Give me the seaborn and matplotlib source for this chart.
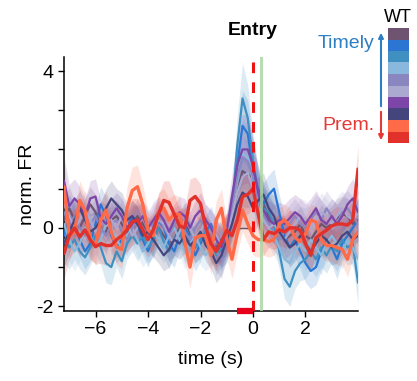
import numpy as np
import pandas as pd
import matplotlib
matplotlib.use("Agg")
import matplotlib.pyplot as plt
from matplotlib.colors import ListedColormap
import seaborn as sns

# time grid (s), 0.2 s bins
time = [-7.2, -7.0, -6.8, -6.6, -6.4, -6.2, -6.0, -5.8, -5.6, -5.4,
        -5.2, -5.0, -4.8, -4.6, -4.4, -4.2, -4.0, -3.8, -3.6, -3.4,
        -3.2, -3.0, -2.8, -2.6, -2.4, -2.2, -2.0, -1.8, -1.6, -1.4,
        -1.2, -1.0, -0.8, -0.6, -0.4, -0.2, 0.0, 0.2, 0.4, 0.6,
        0.8, 1.0, 1.2, 1.4, 1.6, 1.8, 2.0, 2.2, 2.4, 2.6,
        2.8, 3.0, 3.2, 3.4, 3.6, 3.8, 4.0]

groups = ["t1", "t2", "t3", "t4", "t5", "t6", "t7", "p1", "p2", "p3"]
colors = ["#6e5470", "#2a76d2", "#3f8fc0", "#8ab8dc", "#8a86c0",
          "#aca9d0", "#7d45a8", "#45457e", "#ff6a48", "#e2302a"]

fr_t1 = [0.2, 0.5, 0.2, 0.0, 0.3, 0.6, 0.4, 0.0, -0.1, 0.2,
         0.3, 0.1, -0.1, 0.1, 0.3, 0.1, -0.2, -0.3, 0.0, -0.2,
         -0.4, -0.3, 0.0, 0.2, -0.2, -0.5, -0.3, -0.2, -0.4, -0.5,
         -0.3, -0.2, 0.3, 0.9, 1.45, 1.35, 1.3, 1.0, 0.6, 0.3,
         0.1, -0.1, -0.3, -0.2, -0.1, 0.1, -0.2, -0.3, -0.1, 0.1,
         0.0, 0.1, 0.25, 0.35, 0.3, 0.1, 0.2]
fr_t2 = [-0.2, 0.3, 0.1, -0.3, -0.6, -0.4, 0.1, 0.6, 0.3, -0.2,
         -0.5, -0.3, 0.0, 0.3, 0.1, -0.3, -0.6, -0.2, 0.2, 0.0,
         -0.4, -0.6, -0.2, 0.1, -0.3, -0.7, -0.4, -0.1, 0.1, -0.3,
         -0.6, -0.2, 0.5, 1.6, 2.6, 2.4, 1.5, 0.8, 0.6, 0.85,
         1.0, 0.4, -0.2, -0.5, -0.3, -0.6, -0.9, -1.1, -1.0, -0.6,
         -0.3, -0.5, -0.8, -0.4, -0.2, 0.0, 0.2]
fr_t3 = [-0.3, -0.5, -0.3, -0.6, -0.75, -0.5, -0.2, -0.5, -0.9, -1.0,
         -0.6, -0.85, -0.4, -0.2, -0.4, -0.2, -0.5, -0.3, 0.0, -0.35,
         -0.6, -0.3, -0.1, -0.45, -0.2, -0.5, -0.3, -0.1, -0.35, -0.7,
         -0.5, -0.4, 0.4, 2.1, 3.3, 2.8, 1.7, 0.9, 0.5, 0.4,
         0.1, -0.6, -1.3, -1.5, -1.1, -0.9, -0.8, -0.6, -0.8, -0.5,
         -0.7, -0.45, -0.6, -0.3, -0.5, -0.4, -1.4]
fr_t4 = [0.1, -0.3, -0.6, -0.4, 0.0, -0.2, -0.5, -0.3, 0.1, 0.0,
         -0.3, -0.5, -0.2, 0.0, -0.3, -0.6, -0.4, -0.1, -0.3, -0.5,
         -0.2, 0.0, -0.3, -0.6, -0.4, -0.2, -0.5, -0.7, -0.5, -0.3,
         -0.4, -0.1, 0.4, 1.2, 1.9, 1.8, 1.2, 0.6, 0.2, 0.0,
         -0.2, -0.5, -0.8, -0.9, -0.6, -0.4, -0.6, -0.3, -0.5, -0.7,
         -0.4, -0.2, -0.4, -0.6, -0.3, -0.5, -0.8]
fr_t5 = [0.4, 0.1, 0.3, 0.0, -0.2, 0.1, 0.3, 0.0, -0.2, 0.1,
         0.2, -0.1, -0.3, 0.0, 0.2, 0.0, -0.2, 0.1, 0.3, 0.0,
         -0.2, 0.1, 0.2, -0.1, -0.3, 0.0, 0.2, -0.1, -0.3, -0.6,
         -0.8, -0.3, 0.5, 1.3, 1.8, 1.7, 1.3, 0.7, 0.3, 0.1,
         -0.1, -0.3, -0.1, 0.1, 0.3, 0.1, 0.0, 0.2, 0.4, 0.2,
         0.5, 0.3, 0.1, 0.4, 0.5, 0.3, 0.1]
fr_t6 = [0.6, 0.3, 0.0, 0.2, 0.5, 0.2, -0.1, 0.1, 0.4, 0.2,
         0.0, 0.3, 0.1, -0.2, 0.0, 0.3, 0.1, -0.1, 0.2, 0.1,
         -0.2, -0.4, -0.1, 0.2, 0.0, -0.3, -0.1, 0.2, 0.0, -0.2,
         -0.5, -0.2, 0.3, 0.9, 1.3, 1.4, 1.0, 0.5, 0.2, 0.0,
         0.1, -0.1, -0.3, -0.1, 0.1, 0.3, 0.2, 0.0, 0.2, 0.4,
         0.3, 0.1, 0.3, 0.5, 0.3, 0.2, 0.4]
fr_t7 = [1.2, 0.55, 0.75, 0.6, 0.3, 0.75, 0.8, 0.25, 0.1, 0.3,
         0.5, 0.3, 0.0, 0.2, 0.1, 0.3, 0.0, 0.2, 0.4, 0.2,
         -0.1, 0.2, 0.4, 0.3, 0.0, 0.3, 0.45, 0.2, 0.0, -0.3,
         -0.5, -0.1, 0.8, 1.6, 2.0, 2.0, 1.6, 0.9, 0.45, 0.2,
         0.1, 0.2, 0.1, 0.25, 0.4, 0.3, 0.1, 0.3, 0.5, 0.2,
         0.1, 0.3, 0.1, 0.3, 0.6, 0.75, 0.4]
fr_p1 = [-0.4, -0.1, 0.2, 0.5, 0.2, -0.1, 0.0, 0.2, 0.5, 0.75,
         0.6, 0.45, 0.2, 0.3, 0.1, -0.2, -0.1, -0.3, -0.5, -0.7,
         -0.55, -0.3, -0.4, -0.2, -0.45, -0.3, -0.1, -0.45, -0.6, -0.9,
         -0.7, -0.3, 0.1, 0.6, 0.9, 0.8, 0.5, 0.7, 0.85, 0.5,
         0.3, -0.1, -0.3, -0.5, -0.4, -0.2, -0.4, -0.6, -0.4, -0.2,
         -0.3, -0.5, -0.4, -0.2, -0.1, -0.3, -0.2]
fr_p2 = [1.05, -0.2, -0.1, 0.7, 0.45, -0.3, -0.45, 0.2, 0.45, -0.1,
         -0.48, -0.55, 0.5, 0.95, 1.05, 0.6, -0.05, -0.2, 0.4, 0.5,
         0.2, 0.35, 0.35, -0.35, -1.0, -0.25, -0.2, -0.2, -0.7, 0.2,
         0.5, -0.3, -0.8, -0.15, 0.45, 0.1, -0.2, -0.3, -0.3, -0.35,
         -0.3, 0.1, 0.2, 0.05, -0.25, -0.35, -0.15, 0.2, 0.15, -0.3,
         -0.45, -0.45, -0.5, -0.55, -0.8, -0.3, -0.1]
fr_p3 = [-0.65, -0.2, 0.0, -0.23, -0.05, -0.3, -0.48, -0.4, -0.45, -0.45,
         -0.3, -0.2, -0.05, 0.15, 0.2, -0.05, -0.3, -0.05, 0.35, 0.7,
         0.65, 0.35, 0.05, 0.0, 0.7, 0.8, 0.62, 0.0, -0.4, -0.6,
         -0.35, -0.06, -0.2, 0.2, 0.8, 0.85, 1.0, 0.35, -0.3, -0.1,
         -0.15, -0.05, -0.1, 0.0, 0.0, -0.06, -0.4, -0.7, -0.25, -0.15,
         -0.06, 0.05, 0.1, 0.1, 0.07, 0.2, 1.5]

# half-width of the shaded bands
sem_timely = [0.6, 0.55, 0.5, 0.45, 0.45, 0.45, 0.45, 0.45, 0.5, 0.45,
              0.4, 0.45, 0.4, 0.4, 0.45, 0.4, 0.4, 0.45, 0.4, 0.4,
              0.45, 0.4, 0.4, 0.45, 0.4, 0.4, 0.45, 0.4, 0.45, 0.5,
              0.5, 0.5, 0.6, 0.75, 0.9, 0.85, 0.7, 0.6, 0.55, 0.5,
              0.5, 0.45, 0.5, 0.5, 0.45, 0.45, 0.5, 0.45, 0.45, 0.5,
              0.45, 0.45, 0.5, 0.45, 0.45, 0.5, 0.55]
sem_prem = [0.65, 0.6, 0.5, 0.5, 0.45, 0.5, 0.45, 0.5, 0.5, 0.45,
            0.45, 0.5, 0.55, 0.6, 0.55, 0.5, 0.45, 0.45, 0.5, 0.5,
            0.55, 0.5, 0.45, 0.5, 0.55, 0.5, 0.5, 0.45, 0.5, 0.5,
            0.5, 0.45, 0.5, 0.5, 0.55, 0.5, 0.5, 0.45, 0.4, 0.4,
            0.4, 0.4, 0.4, 0.45, 0.4, 0.4, 0.45, 0.4, 0.4, 0.45,
            0.4, 0.4, 0.45, 0.4, 0.45, 0.5, 0.6]

series = [fr_t1, fr_t2, fr_t3, fr_t4, fr_t5, fr_t6, fr_t7, fr_p1, fr_p2, fr_p3]
sems = [sem_timely] * 8 + [sem_prem] * 2

df = pd.concat([pd.DataFrame({"time": time, "fr": s, "sem": e, "group": g})
                for g, s, e in zip(groups, series, sems)], ignore_index=True)

sns.set_style("ticks")
plt.rcParams["font.family"] = ["Liberation Sans", "DejaVu Sans"]
plt.rcParams["text.color"] = "black"
plt.rcParams["axes.labelcolor"] = "black"
plt.rcParams["axes.edgecolor"] = "black"

fig = plt.figure(figsize=(4.17, 3.81), dpi=100)
ax = fig.add_axes([0.1535, 0.1837, 0.705, 0.667])

ax.plot([-0.6, 0], [0, 0], color="#555555", lw=1, zorder=1)

for g, c in zip(groups, colors):
    d = df[df["group"] == g]
    ax.fill_between(d["time"], d["fr"] - d["sem"], d["fr"] + d["sem"],
                    color=c, alpha=0.18, lw=0, zorder=2)

widths = {g: (2.4 if g in ("p2", "p3") else 1.6) for g in groups}
for i, (g, c) in enumerate(zip(groups, colors)):
    d = df[df["group"] == g]
    sns.lineplot(data=d, x="time", y="fr", color=c, lw=widths[g],
                 ax=ax, zorder=3 + i, legend=False)

ax.axvline(0.3, color="#a8d5a0", lw=2.2, alpha=0.8, zorder=20)
ax.axvline(0.0, color="#ee1111", lw=2.2, ls=(0, (3.5, 3)), zorder=21)
ax.plot([-0.6, 0], [-2.12, -2.12], color="#e8001a", lw=4.5,
        solid_capstyle="butt", clip_on=False, zorder=22)

ax.set_xlim(-7.2, 4.0)
ax.set_ylim(-2.12, 4.36)
ax.set_xticks([-6, -4, -2, 0, 2])
ax.set_yticks([-2, -1, 0, 1, 2, 3, 4])
ax.set_yticklabels(["-2", "", "0", "", "", "", "4"])
ax.tick_params(labelsize=14, length=4, width=1, colors="black")
ax.set_xlabel("time (s)", fontsize=14, labelpad=9)
ax.set_ylabel("norm. FR", fontsize=14, labelpad=0)
ax.set_title("Entry", fontsize=14, fontweight="bold", pad=16,
             x=0.643, color="black")
sns.despine(ax=ax)
for sp in ax.spines.values():
    sp.set_linewidth(1.1)

# colour key
kax = fig.add_axes([388 / 417, 1 - 143 / 381, 21 / 417, 115 / 381])
sns.heatmap(np.arange(len(colors)).reshape(-1, 1), cmap=ListedColormap(colors),
            cbar=False, ax=kax, xticklabels=False, yticklabels=False)
kax.set_axis_off()
fig.text(398 / 417, 1 - 18 / 381, "WT", ha="center", va="center", fontsize=13)
fig.text(374 / 417, 1 - 43 / 381, "Timely", ha="right", va="center",
         fontsize=14, color="#2e7ec2")
fig.text(374 / 417, 1 - 125 / 381, "Prem.", ha="right", va="center",
         fontsize=14, color="#e53935")
fig.patches.append(matplotlib.patches.FancyArrowPatch(
    (381 / 417, 1 - 109 / 381), (381 / 417, 1 - 30 / 381),
    transform=fig.transFigure, arrowstyle="-|>", mutation_scale=7,
    color="#2e7ec2", lw=1.5))
fig.patches.append(matplotlib.patches.FancyArrowPatch(
    (381 / 417, 1 - 109 / 381), (381 / 417, 1 - 143 / 381),
    transform=fig.transFigure, arrowstyle="-|>", mutation_scale=7,
    color="#e53935", lw=1.5))

fig.savefig("out.png", dpi=100)
